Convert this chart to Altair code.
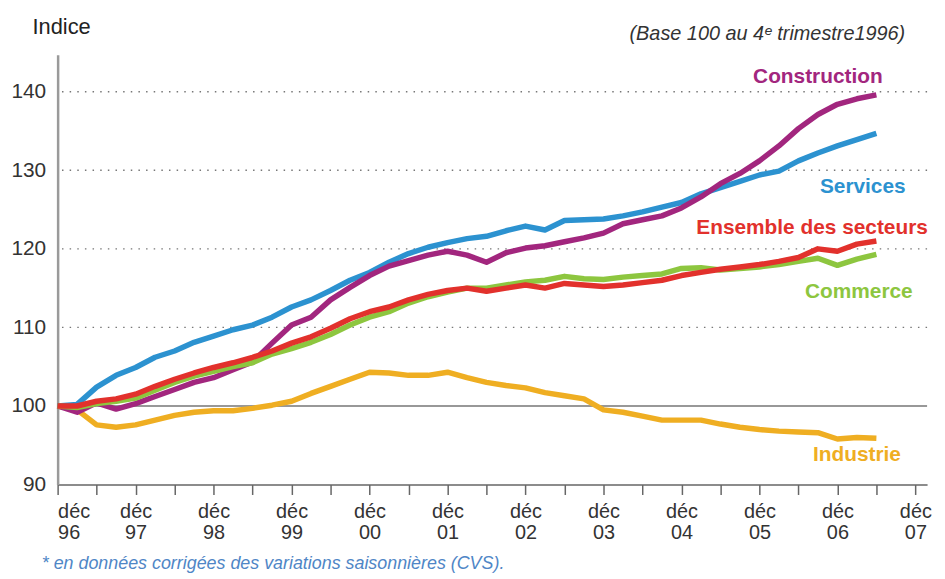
import altair as alt
import pandas as pd

# quarter index: 0 = déc 96, one step = one quarter
quarters = list(range(43))

services = [100, 100.2, 102.4, 103.9, 104.9, 106.2, 107.0, 108.1, 108.9, 109.7, 110.3, 111.3,
            112.6, 113.5, 114.7, 116.0, 117.0, 118.3, 119.4, 120.2, 120.8, 121.3, 121.6, 122.3,
            122.9, 122.4, 123.6, 123.7, 123.8, 124.2, 124.7, 125.3, 125.9, 127.0, 127.8, 128.6,
            129.4, 129.9, 131.2, 132.2, 133.1, 133.9, 134.7]
construction = [100, 99.2, 100.4, 99.6, 100.3, 101.2, 102.1, 103.0, 103.6, 104.6, 105.6, 108.0,
                110.3, 111.3, 113.5, 115.1, 116.6, 117.8, 118.5, 119.2, 119.7, 119.2, 118.3, 119.5,
                120.1, 120.4, 120.9, 121.4, 122.0, 123.2, 123.7, 124.2, 125.2, 126.6, 128.3, 129.6,
                131.2, 133.1, 135.3, 137.1, 138.4, 139.1, 139.6]
ensemble = [100, 100.0, 100.6, 100.9, 101.5, 102.5, 103.4, 104.2, 104.9, 105.5, 106.2, 107.0,
            108.0, 108.8, 109.9, 111.1, 112.0, 112.6, 113.5, 114.2, 114.7, 115.0, 114.6, 115.0,
            115.4, 115.0, 115.6, 115.4, 115.2, 115.4, 115.7, 116.0, 116.6, 117.0, 117.4, 117.7,
            118.0, 118.4, 118.9, 120.0, 119.7, 120.6, 121.0]
commerce = [100, 99.8, 100.3, 100.6, 101.0, 102.0, 103.0, 103.8, 104.4, 105.0, 105.5, 106.6,
            107.3, 108.1, 109.1, 110.3, 111.3, 112.0, 113.1, 113.9, 114.5, 115.0, 115.0, 115.4,
            115.8, 116.0, 116.5, 116.2, 116.1, 116.4, 116.6, 116.8, 117.5, 117.6, 117.3, 117.5,
            117.7, 118.0, 118.4, 118.8, 117.9, 118.7, 119.3]
industrie = [100, 99.5, 97.6, 97.3, 97.6, 98.2, 98.8, 99.2, 99.4, 99.4, 99.7, 100.1,
             100.6, 101.6, 102.5, 103.4, 104.3, 104.2, 103.9, 103.9, 104.3, 103.6, 103.0, 102.6,
             102.3, 101.7, 101.3, 100.9, 99.5, 99.2, 98.7, 98.2, 98.2, 98.2, 97.7, 97.3,
             97.0, 96.8, 96.7, 96.6, 95.8, 96.0, 95.9]

# drawing order (bottom to top)
series_names = ["Industrie", "Services", "Construction", "Commerce", "Ensemble des secteurs"]
series_values = [industrie, services, construction, commerce, ensemble]
series_colors = ["#efae22", "#2c92d0", "#a2267e", "#8dc63f", "#e2312c"]

# series label positions (quarter index, index value)
label_x = [41.0, 41.3, 39.0, 41.1, 38.7]
label_y = [93.7, 127.9, 141.9, 114.5, 122.6]

year_labels = ["96", "97", "98", "99", "00", "01", "02", "03", "04", "05", "06", "07"]
y_ticks = [90, 100, 110, 120, 130, 140]
grid_values = [110, 120, 130, 140]
base_value = [100]

FONT = "Liberation Sans"

x_scale = alt.Scale(domain=[0, 44.6], nice=False, zero=False)
y_scale = alt.Scale(domain=[90, 144.7], nice=False, zero=False)

years_js = "[" + ",".join("'" + y + "'" for y in year_labels) + "]"
label_expr = f"datum.value % 4 == 0 ? ['déc', {years_js}[datum.value / 4]] : ''"

x_axis = alt.Axis(values=list(range(0, 45, 2)), labelExpr=label_expr, tickSize=10,
                  tickColor="#666666", tickWidth=1.5, domainColor="#666666", domainWidth=1.5,
                  labelFont=FONT, labelFontSize=20, labelColor="#333333", labelLineHeight=21,
                  labelPadding=7, labelBaseline="top", labelAngle=0, labelOverlap=False,
                  grid=False, title=None)
y_axis = alt.Axis(values=y_ticks, ticks=False, domainColor="#9a9a9a", domainWidth=2.5,
                  labelFont=FONT, labelFontSize=21, labelColor="#333333", labelPadding=12,
                  grid=False, title=None)

X = lambda f: alt.X(f, scale=x_scale, axis=x_axis)
Y = lambda f: alt.Y(f, scale=y_scale, axis=y_axis)

layers = []

grid_df = pd.DataFrame({"v": grid_values})
layers.append(
    alt.Chart(grid_df).mark_rule(stroke="#777777", strokeWidth=1.4, strokeDash=[1.5, 6.2])
    .encode(y=Y("v:Q"))
)
base_df = pd.DataFrame({"v": base_value})
layers.append(
    alt.Chart(base_df).mark_rule(stroke="#333333", strokeWidth=1.2)
    .encode(y=Y("v:Q"))
)

for name, vals, col in zip(series_names, series_values, series_colors):
    df = pd.DataFrame({"q": quarters, "v": vals})
    layers.append(
        alt.Chart(df).mark_line(stroke=col, strokeWidth=5.5, strokeJoin="round", strokeCap="butt")
        .encode(x=X("q:Q"), y=Y("v:Q"))
    )

lab_df = pd.DataFrame({"name": series_names, "x": label_x, "y": label_y})
layers.append(
    alt.Chart(lab_df).mark_text(font=FONT, fontSize=21, fontWeight="bold", align="center",
                                baseline="middle")
    .encode(
        x=X("x:Q"),
        y=Y("y:Q"),
        text="name:N",
        color=alt.Color("name:N", scale=alt.Scale(domain=series_names, range=series_colors),
                        legend=None),
    )
)

one = pd.DataFrame({"a": [0]})
layers.append(
    alt.Chart(one).mark_text(text="Indice", font=FONT, fontSize=22, color="#222222",
                             align="center", baseline="middle")
    .encode(x=alt.value(4), y=alt.value(-28))
)
layers.append(
    alt.Chart(one).mark_text(text="(Base 100 au 4ᵉ trimestre1996)", font=FONT, fontSize=20,
                             fontStyle="italic", color="#333333", align="right", baseline="middle")
    .encode(x=alt.value(854), y=alt.value(-21))
)
layers.append(
    alt.Chart(one).mark_text(text="* en données corrigées des variations saisonnières (CVS).",
                             font=FONT, fontSize=18, fontStyle="italic", color="#4f86c6",
                             align="left", baseline="middle")
    .encode(x=alt.value(-16), y=alt.value(513))
)

chart = alt.layer(*layers).properties(
    width=876, height=433,
    background="white",
    autosize=alt.AutoSizeParams(type="none"),
    padding={"left": 50, "top": 45, "right": 10, "bottom": 90},
).configure_view(stroke=None)

chart.save("out.html", embed_options={"renderer": "svg", "actions": False})
